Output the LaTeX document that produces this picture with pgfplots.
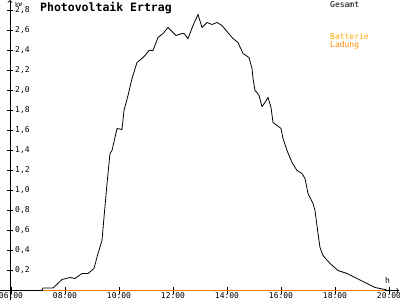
\documentclass[border=0pt]{standalone}
\usepackage{fontspec}
\setmainfont{DejaVu Sans}
\setmonofont{DejaVu Sans Mono}
\usepackage{pgfplots}
\pgfplotsset{compat=1.18}
\definecolor{orangeline}{HTML}{FF8000}
\definecolor{battcol}{HTML}{FFAA00}
\definecolor{ladcol}{HTML}{FF8C00}
\begin{document}
\begin{tikzpicture}
\path[use as bounding box] (-10bp,0) rectangle (390bp,300bp);
\begin{axis}[
  scale only axis, width=389bp, height=300bp,
  xmin=5.963, xmax=20.37, ymin=-0.095, ymax=2.905,
  axis x line=middle, axis y line=left,
  x axis line style={->, line width=0.8bp, shorten <=-10bp},
  y axis line style={->, line width=0.8bp},
  xtick={6,8,10,12,14,16,18,20},
  xticklabels={06:00,08:00,10:00,12:00,14:00,16:00,18:00,20:00},
  ytick={0.2,0.4,0.6,0.8,1.0,1.2,1.4,1.6,1.8,2.0,2.2,2.4,2.6,2.8},
  tick align=center, major tick length=6bp,
  tick style={black, line width=0.8bp},
  every tick label/.append style={font=\ttfamily\fontsize{8bp}{9bp}\selectfont},
  xticklabel style={anchor=north, inner sep=0pt, yshift=1.5bp},
  yticklabel style={anchor=west, inner sep=0pt, xshift=8bp},
  /pgf/number format/.cd, use comma, fixed, fixed zerofill, precision=1, assume math mode=true,
  /pgfplots/.cd,
  clip=false,
]
\addplot[black, line width=0.8bp] coordinates {
(6.0,0) (7.15,0) (7.185,0.025) (7.556,0.025) (7.889,0.11) (8.185,0.13) (8.370,0.12)
(8.630,0.17) (8.852,0.17) (9.074,0.22) (9.222,0.37) (9.370,0.50) (9.444,0.73)
(9.556,1.07) (9.667,1.37) (9.741,1.40) (9.926,1.62) (10.111,1.61) (10.185,1.80)
(10.333,1.95) (10.481,2.12) (10.667,2.28) (10.852,2.32) (10.963,2.35) (11.111,2.40)
(11.259,2.40) (11.444,2.53) (11.630,2.57) (11.815,2.63) (12.111,2.55) (12.333,2.57)
(12.407,2.57) (12.556,2.52) (12.741,2.65) (12.926,2.76) (13.074,2.63) (13.259,2.68)
(13.444,2.66) (13.630,2.68) (13.815,2.65) (14.0,2.59) (14.222,2.52) (14.407,2.48)
(14.593,2.37) (14.815,2.33) (14.926,2.22) (14.963,2.12) (15.037,2.00) (15.111,1.98)
(15.185,1.95) (15.296,1.84) (15.407,1.88) (15.519,1.93) (15.630,1.83) (15.704,1.68)
(15.852,1.65) (16.0,1.62) (16.074,1.52) (16.185,1.43) (16.222,1.40) (16.407,1.28)
(16.593,1.20) (16.778,1.17) (16.889,1.12) (17.0,0.97) (17.185,0.87) (17.259,0.80)
(17.370,0.57) (17.444,0.43) (17.556,0.35) (17.815,0.27) (18.111,0.20) (18.444,0.17)
(18.815,0.12) (19.185,0.07) (19.481,0.03) (19.852,0.01) (19.95,0)
};
\addplot[orangeline, line width=1.2bp] coordinates {(7.185,0) (19.852,0)};
\node[anchor=base west, inner sep=0pt, font=\ttfamily\bfseries\fontsize{11.5bp}{12bp}\selectfont] at (axis cs:7.074,2.79) {Photovoltaik Ertrag};
\node[anchor=base west, inner sep=0pt, font=\ttfamily\fontsize{5.5bp}{6bp}\selectfont] at (axis cs:6.148,2.838) {kW};
\node[anchor=base west, inner sep=0pt, font=\ttfamily\fontsize{8bp}{9bp}\selectfont] at (axis cs:19.852,0.075) {h};
\node[anchor=base west, inner sep=0pt, font=\ttfamily\fontsize{8bp}{9bp}\selectfont] at (axis cs:17.815,2.832) {Gesamt};
\node[anchor=base west, inner sep=0pt, text=battcol, font=\ttfamily\fontsize{8bp}{9bp}\selectfont] at (axis cs:17.815,2.515) {Batterie};
\node[anchor=base west, inner sep=0pt, text=ladcol, font=\ttfamily\fontsize{8bp}{9bp}\selectfont] at (axis cs:17.815,2.435) {Ladung};
\end{axis}
\end{tikzpicture}
\end{document}
